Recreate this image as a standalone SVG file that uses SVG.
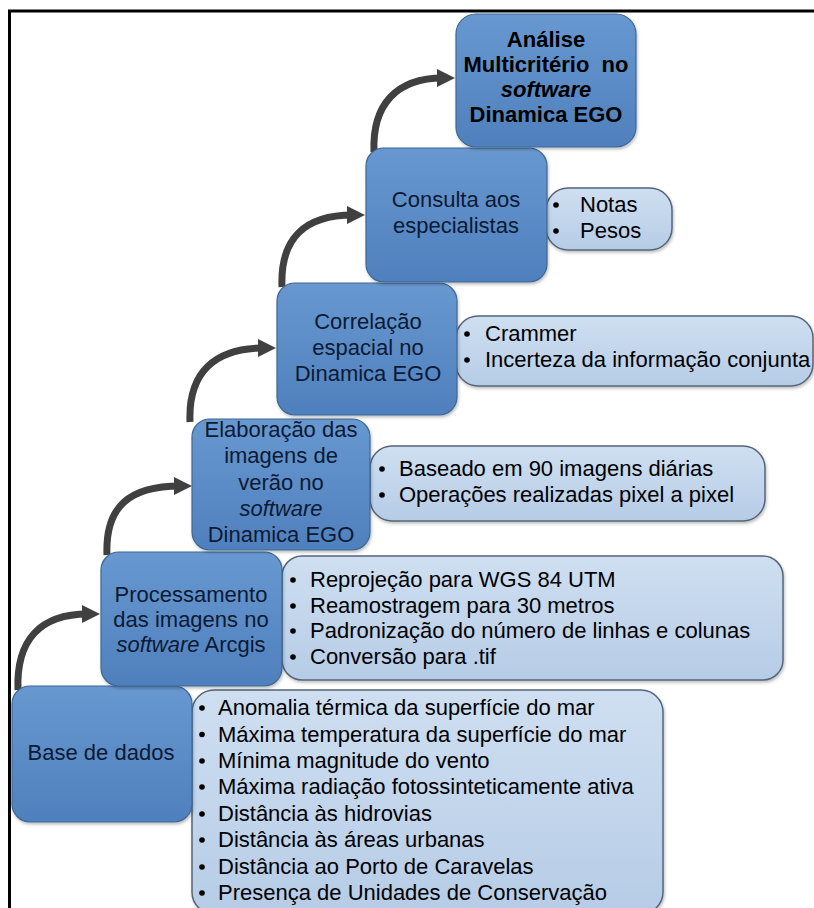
<svg xmlns="http://www.w3.org/2000/svg" width="814" height="908" viewBox="0 0 814 908">
<defs>
<linearGradient id="gMain" x1="0" y1="0" x2="0" y2="1">
<stop offset="0" stop-color="#6898d0"/>
<stop offset="1" stop-color="#4f80bd"/>
</linearGradient>
<linearGradient id="gSide" x1="0" y1="0" x2="0" y2="1">
<stop offset="0" stop-color="#cfdff1"/>
<stop offset="1" stop-color="#b6cce6"/>
</linearGradient>
<marker id="ah" markerUnits="userSpaceOnUse" markerWidth="20" markerHeight="20" refX="6" refY="9" orient="auto">
<path d="M0,0 L18,9 L0,18 z" fill="#404040"/>
</marker>
<filter id="sh" x="-10%" y="-10%" width="120%" height="120%">
<feDropShadow dx="1" dy="2" stdDeviation="1.5" flood-color="#000" flood-opacity="0.25"/>
</filter>
</defs>
<style>
.main{fill:url(#gMain);stroke:#3d6894;stroke-width:1.2;filter:url(#sh)}
.side{fill:url(#gSide);stroke:#56657a;stroke-width:1.5;filter:url(#sh)}
.mt{font-family:"Liberation Sans",Arial,sans-serif;font-size:22px;fill:#0d1a33;text-anchor:middle}
.bt{font-weight:bold;fill:#000}
.st{font-family:"Liberation Sans",Arial,sans-serif;font-size:22px;fill:#000}
.arr{fill:none;stroke:#404040;stroke-width:7;marker-end:url(#ah)}
.frame{stroke:#000;stroke-width:3;fill:none}
</style>
<rect width="814" height="908" fill="#fff"/>
<path class="frame" d="M9.5 908 V11 H814"/>

<g id="connectors">
<path class="arr" d="M18 690 C16 640 40 614 88 614"/>
<path class="arr" d="M107 555 C105 506 130 486 180 486"/>
<path class="arr" d="M190 422 C188 372 215 348 264 348"/>
<path class="arr" d="M282 287 C280 238 305 215 353 215"/>
<path class="arr" d="M374 152 C372 104 397 78 443 78"/>
</g>

<g id="base-side">
<rect class="side" x="192" y="690" width="471" height="224" rx="22"/>
<g fill="#000">
<circle cx="202" cy="708" r="2.8"/><circle cx="202" cy="734.5" r="2.8"/><circle cx="202" cy="761" r="2.8"/><circle cx="202" cy="787" r="2.8"/>
<circle cx="202" cy="814" r="2.8"/><circle cx="202" cy="840" r="2.8"/><circle cx="202" cy="867" r="2.8"/><circle cx="202" cy="893" r="2.8"/>
</g>
<text class="st" x="218" y="715">Anomalia térmica da superfície do mar</text>
<text class="st" x="218" y="741.5">Máxima temperatura da superfície do mar</text>
<text class="st" x="218" y="768">Mínima magnitude do vento</text>
<text class="st" x="218" y="794">Máxima radiação fotossinteticamente ativa</text>
<text class="st" x="218" y="821">Distância às hidrovias</text>
<text class="st" x="218" y="847">Distância às áreas urbanas</text>
<text class="st" x="218" y="874">Distância ao Porto de Caravelas</text>
<text class="st" x="218" y="900">Presença de Unidades de Conservação</text>
</g>
<g id="base">
<rect class="main" x="12" y="686" width="180" height="136" rx="18"/>
<text class="mt" x="101" y="760">Base de dados</text>
</g>

<g id="proc-side">
<rect class="side" x="282" y="556" width="501" height="124" rx="20"/>
<g fill="#000">
<circle cx="293" cy="580" r="2.8"/><circle cx="293" cy="606" r="2.8"/><circle cx="293" cy="631" r="2.8"/><circle cx="293" cy="657" r="2.8"/>
</g>
<text class="st" x="310" y="587">Reprojeção para WGS 84 UTM</text>
<text class="st" x="310" y="613">Reamostragem para 30 metros</text>
<text class="st" x="310" y="638">Padronização do número de linhas e colunas</text>
<text class="st" x="310" y="664">Conversão para .tif</text>
</g>
<g id="proc">
<rect class="main" x="101" y="552" width="181" height="134" rx="18"/>
<text class="mt" x="191" y="602">Processamento</text>
<text class="mt" x="191" y="627">das imagens no</text>
<text class="mt" x="191" y="652"><tspan font-style="italic">software</tspan> Arcgis</text>
</g>

<g id="elab-side">
<rect class="side" x="370" y="446" width="395" height="75" rx="22"/>
<g fill="#000">
<circle cx="382" cy="469" r="2.8"/><circle cx="382" cy="495" r="2.8"/>
</g>
<text class="st" x="399" y="476">Baseado em 90 imagens diárias</text>
<text class="st" x="399" y="502">Operações realizadas pixel a pixel</text>
</g>
<g id="elab">
<rect class="main" x="192" y="419" width="178" height="131" rx="18"/>
<text class="mt" x="281" y="437">Elaboração das</text>
<text class="mt" x="281" y="463">imagens de</text>
<text class="mt" x="281" y="490">verão no</text>
<text class="mt" x="281" y="516" font-style="italic">software</text>
<text class="mt" x="281" y="542">Dinamica EGO</text>
</g>

<g id="corr-side">
<rect class="side" x="456" y="316" width="357" height="70" rx="22"/>
<g fill="#000">
<circle cx="467" cy="334" r="2.8"/><circle cx="467" cy="360" r="2.8"/>
</g>
<text class="st" x="485" y="341">Crammer</text>
<text class="st" x="485" y="367">Incerteza da informação conjunta</text>
</g>
<g id="corr">
<rect class="main" x="277" y="283" width="180" height="132" rx="18"/>
<text class="mt" x="368" y="329">Correlação</text>
<text class="mt" x="368" y="355">espacial no</text>
<text class="mt" x="368" y="381">Dinamica EGO</text>
</g>

<g id="cons-side">
<rect class="side" x="546" y="188" width="126" height="62" rx="22"/>
<g fill="#000">
<circle cx="556" cy="205" r="2.8"/><circle cx="556" cy="231" r="2.8"/>
</g>
<text class="st" x="580" y="212">Notas</text>
<text class="st" x="580" y="238">Pesos</text>
</g>
<g id="cons">
<rect class="main" x="366" y="148" width="181" height="134" rx="18"/>
<text class="mt" x="456" y="207">Consulta aos</text>
<text class="mt" x="456" y="233">especialistas</text>
</g>

<g id="analise">
<rect class="main" x="456" y="14" width="180" height="133" rx="20"/>
<text class="mt bt" x="546" y="47">Análise</text>
<text class="mt bt" x="546" y="72" xml:space="preserve">Multicritério  no</text>
<text class="mt bt" x="546" y="97" font-style="italic" font-weight="normal">software</text>
<text class="mt bt" x="546" y="122">Dinamica EGO</text>
</g>
</svg>
